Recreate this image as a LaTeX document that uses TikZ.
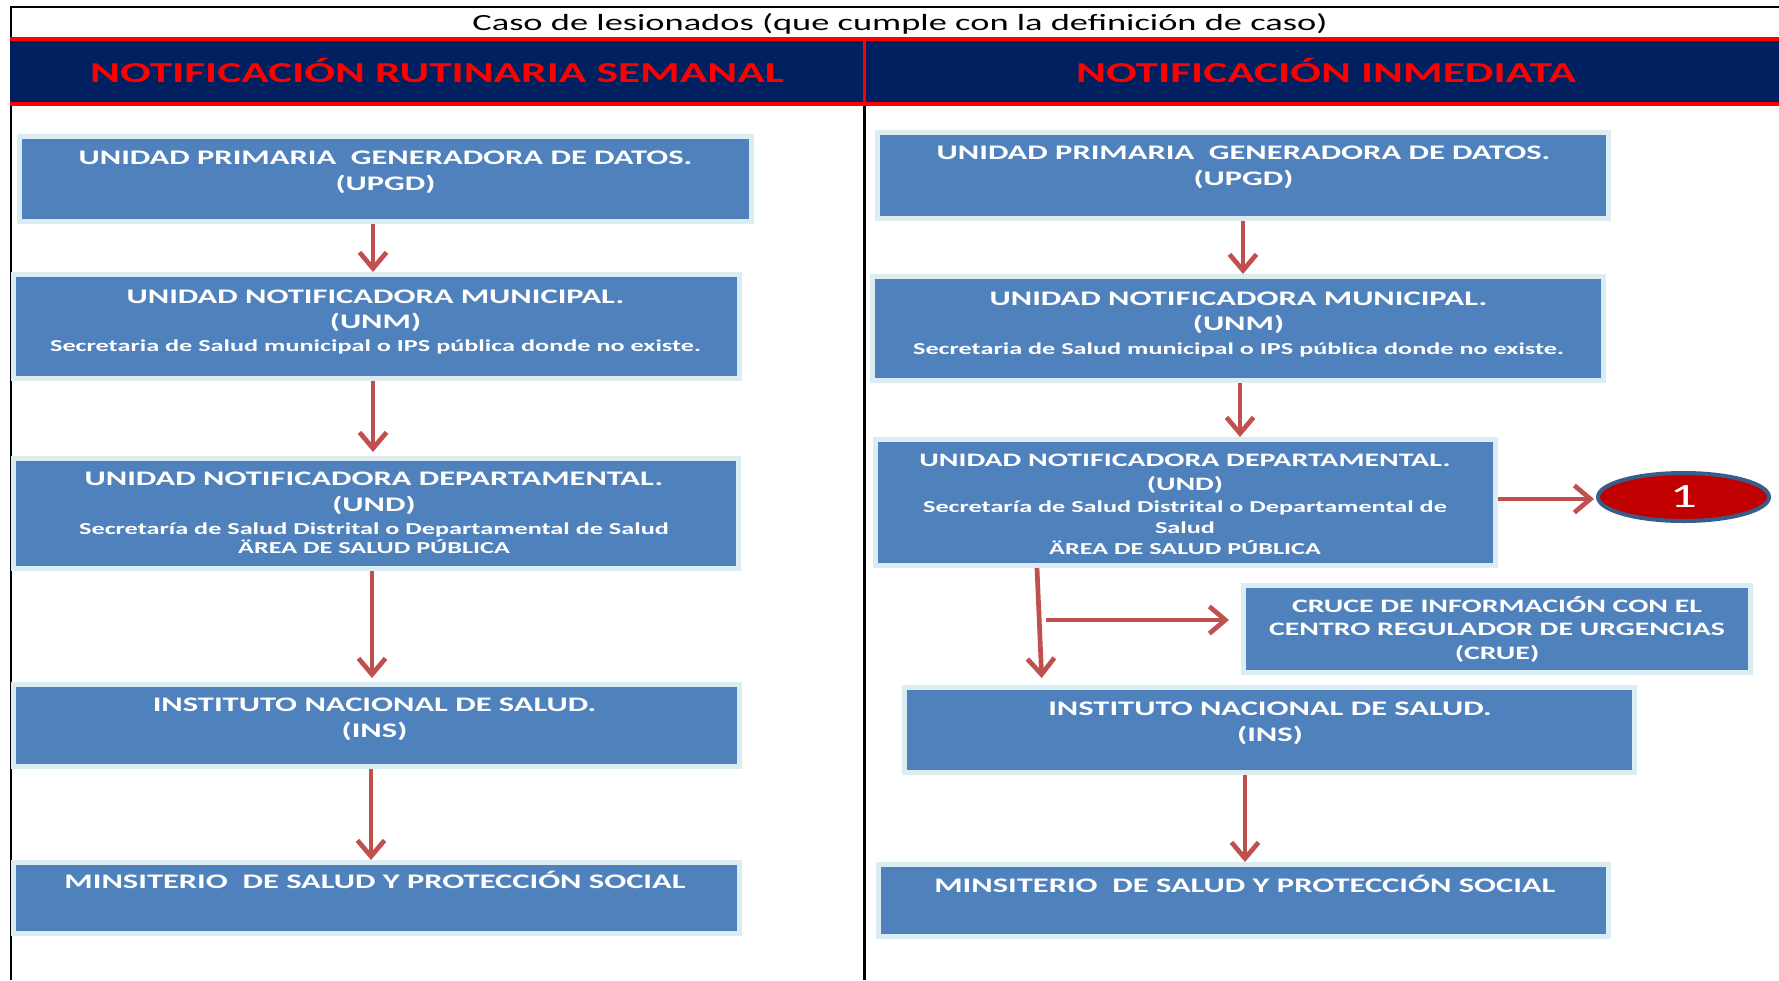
\documentclass[tikz,border=0pt]{standalone}
\usepackage{fontspec}
\setmainfont{Carlito}[FakeStretch=1.57]
\usetikzlibrary{arrows.meta,shapes.geometric}
\definecolor{boxblue}{RGB}{79,129,189}
\definecolor{boxedge}{RGB}{219,236,243}
\definecolor{arrred}{RGB}{192,80,77}
\definecolor{navy}{RGB}{0,32,96}
\definecolor{hdrred}{RGB}{255,0,0}
\definecolor{ellred}{RGB}{192,0,0}
\definecolor{elledge}{RGB}{56,93,138}
\begin{document}
\begin{tikzpicture}[x=1pt,y=-1pt,
  box/.style={draw=boxedge, line width=5pt, fill=boxblue, inner sep=0pt},
  big/.style={text=white, inner sep=0pt, anchor=base, font=\bfseries\fontsize{20.7}{25}\selectfont},
  sml/.style={text=white, inner sep=0pt, anchor=base, font=\bfseries\fontsize{16.7}{20}\selectfont},
  rbig/.style={text=white, inner sep=0pt, anchor=base, font=\bfseries\fontsize{19}{23}\selectfont},
  rsml/.style={text=white, inner sep=0pt, anchor=base, font=\bfseries\fontsize{16.7}{19}\selectfont},
  hdr/.style={text=hdrred, inner sep=0pt, anchor=base, font=\bfseries\fontsize{28.9}{30}\selectfont},
  arr/.style={draw=arrred, line width=4.7pt, -{Straight Barb[length=16pt,width=27pt]}},
]
\useasboundingbox (0,0) rectangle (1779,980);
\fill[white] (0,0) rectangle (1779,980);

% frame lines
\draw[line width=2.3pt] (1779,7) -- (11,7) -- (11,980);
\draw[line width=2.3pt] (864.5,106) -- (864.5,980);

% header band
\fill[navy] (9.9,41) rectangle (1779,102);
\fill[hdrred] (9.9,37) rectangle (1779,41);
\fill[hdrred] (9.9,102) rectangle (1779,106);
\fill[hdrred] (863,41) rectangle (866,102);

\node[inner sep=0pt, anchor=base, font=\fontsize{23.2}{26}\selectfont] (title) at (900,30.5) {Caso de lesionados (que cumple con la definición de caso)};
\node[hdr] (h1) at (437,82) {NOTIFICACIÓN RUTINARIA SEMANAL};
\node[hdr] (h2) at (1326,82) {NOTIFICACIÓN INMEDIATA};

% left column
\node[box, minimum width=732pt, minimum height=85pt] (l1) at (385.5,179) {};
\node[box, minimum width=726pt, minimum height=104pt] (l2) at (376.5,326.5) {};
\node[box, minimum width=725pt, minimum height=110pt] (l3) at (376,513.5) {};
\node[box, minimum width=726pt, minimum height=82pt] (l4) at (376.5,725.5) {};
\node[box, minimum width=726pt, minimum height=71pt] (l5) at (376.5,898) {};

\node[big] (l1a) at (385.5,164.7) {UNIDAD PRIMARIA\ \ GENERADORA DE DATOS.};
\node[big] (l1b) at (385.5,190.7) {(UPGD)};
\node[big] (l2a) at (375.5,303.7) {UNIDAD NOTIFICADORA MUNICIPAL.};
\node[big] (l2b) at (375.5,328.7) {(UNM)};
\node[sml] (l2c) at (375.5,351.6) {Secretaria de Salud municipal o IPS pública donde no existe.};
\node[big] (l3a) at (374,485.7) {UNIDAD NOTIFICADORA DEPARTAMENTAL.};
\node[big] (l3b) at (374,511.7) {(UND)};
\node[sml] (l3c) at (374,534.6) {Secretaría de Salud Distrital o Departamental de Salud};
\node[sml] (l3d) at (374,553.6) {ÄREA DE SALUD PÚBLICA};
\node[big] (l4a) at (374.5,711.7) {INSTITUTO NACIONAL DE SALUD.};
\node[big] (l4b) at (374.5,737.7) {(INS)};
\node[big] (l5a) at (375,888.7) {MINSITERIO\ \ DE SALUD Y PROTECCIÓN SOCIAL};

\draw[arr] ([xshift=-12.5pt]l1.south) -- ([xshift=-3.5pt]l2.north);
\draw[arr, shorten >=4pt] ([xshift=-3.5pt]l2.south) -- ([xshift=-3pt]l3.north);
\draw[arr, shorten >=4pt] ([xshift=-4pt]l3.south) -- ([xshift=-4.5pt]l4.north);
\draw[arr] ([xshift=-5.5pt]l4.south) -- ([xshift=-5.5pt]l5.north);

% right column
\node[box, minimum width=731pt, minimum height=86pt] (r1) at (1243,175.5) {};
\node[box, minimum width=731pt, minimum height=104pt] (r2) at (1238,328.5) {};
\node[box, minimum width=620pt, minimum height=126pt] (r3) at (1185.5,502.5) {};
\node[box, minimum width=507pt, minimum height=87pt] (crue) at (1497,629) {};
\node[box, minimum width=730pt, minimum height=85pt] (r4) at (1269.5,730) {};
\node[box, minimum width=730pt, minimum height=72pt] (r5) at (1243.5,900.5) {};
\node[ellipse, draw=elledge, line width=4pt, fill=ellred, inner sep=0pt,
      minimum width=171pt, minimum height=48pt, text=white,
      font=\fontsize{34}{34}\selectfont] (e1) at (1683.5,497) {1};

\node[big] (r1a) at (1243.5,159.7) {UNIDAD PRIMARIA\ \ GENERADORA DE DATOS.};
\node[big] (r1b) at (1243.5,185.7) {(UPGD)};
\node[big] (r2a) at (1238.5,305.7) {UNIDAD NOTIFICADORA MUNICIPAL.};
\node[big] (r2b) at (1238.5,330.7) {(UNM)};
\node[sml] (r2c) at (1238.5,354.6) {Secretaria de Salud municipal o IPS pública donde no existe.};
\node[rbig] (r3a) at (1185,466.2) {UNIDAD NOTIFICADORA DEPARTAMENTAL.};
\node[rbig] (r3b) at (1185,490.2) {(UND)};
\node[rsml] (r3c) at (1185,512.4) {Secretaría de Salud Distrital o Departamental de};
\node[rsml] (r3d) at (1185,533.4) {Salud};
\node[rsml] (r3e) at (1185,554.4) {ÄREA DE SALUD PÚBLICA};
\node[rbig] (c1) at (1497,612.1) {CRUCE DE INFORMACIÓN CON EL};
\node[rbig] (c2) at (1497,635.1) {CENTRO REGULADOR DE URGENCIAS};
\node[rbig] (c3) at (1497,659.1) {(CRUE)};
\node[big] (r4a) at (1270,715.7) {INSTITUTO NACIONAL DE SALUD.};
\node[big] (r4b) at (1270,741.7) {(INS)};
\node[big] (r5a) at (1244.8,892.7) {MINSITERIO\ \ DE SALUD Y PROTECCIÓN SOCIAL};

\draw[arr] (r1.south) -- ([xshift=5pt]r2.north);
\draw[arr] ([xshift=2pt]r2.south) -- ([xshift=54.5pt]r3.north);
\draw[arr, shorten >=2pt] ([yshift=3.5pt]r3.east) -- ([yshift=-2pt]e1.west);
\draw[arr, shorten >=7pt] ([xshift=-148.5pt]r3.south) -- ([xshift=-227.5pt]r4.north);
\coordinate (br) at (1046,620);
\draw[arr, shorten >=12pt] (br) -- (crue.west |- br);
\draw[arr] ([xshift=-24.5pt]r4.south) -- ([xshift=1.5pt]r5.north);
\end{tikzpicture}
\end{document}
